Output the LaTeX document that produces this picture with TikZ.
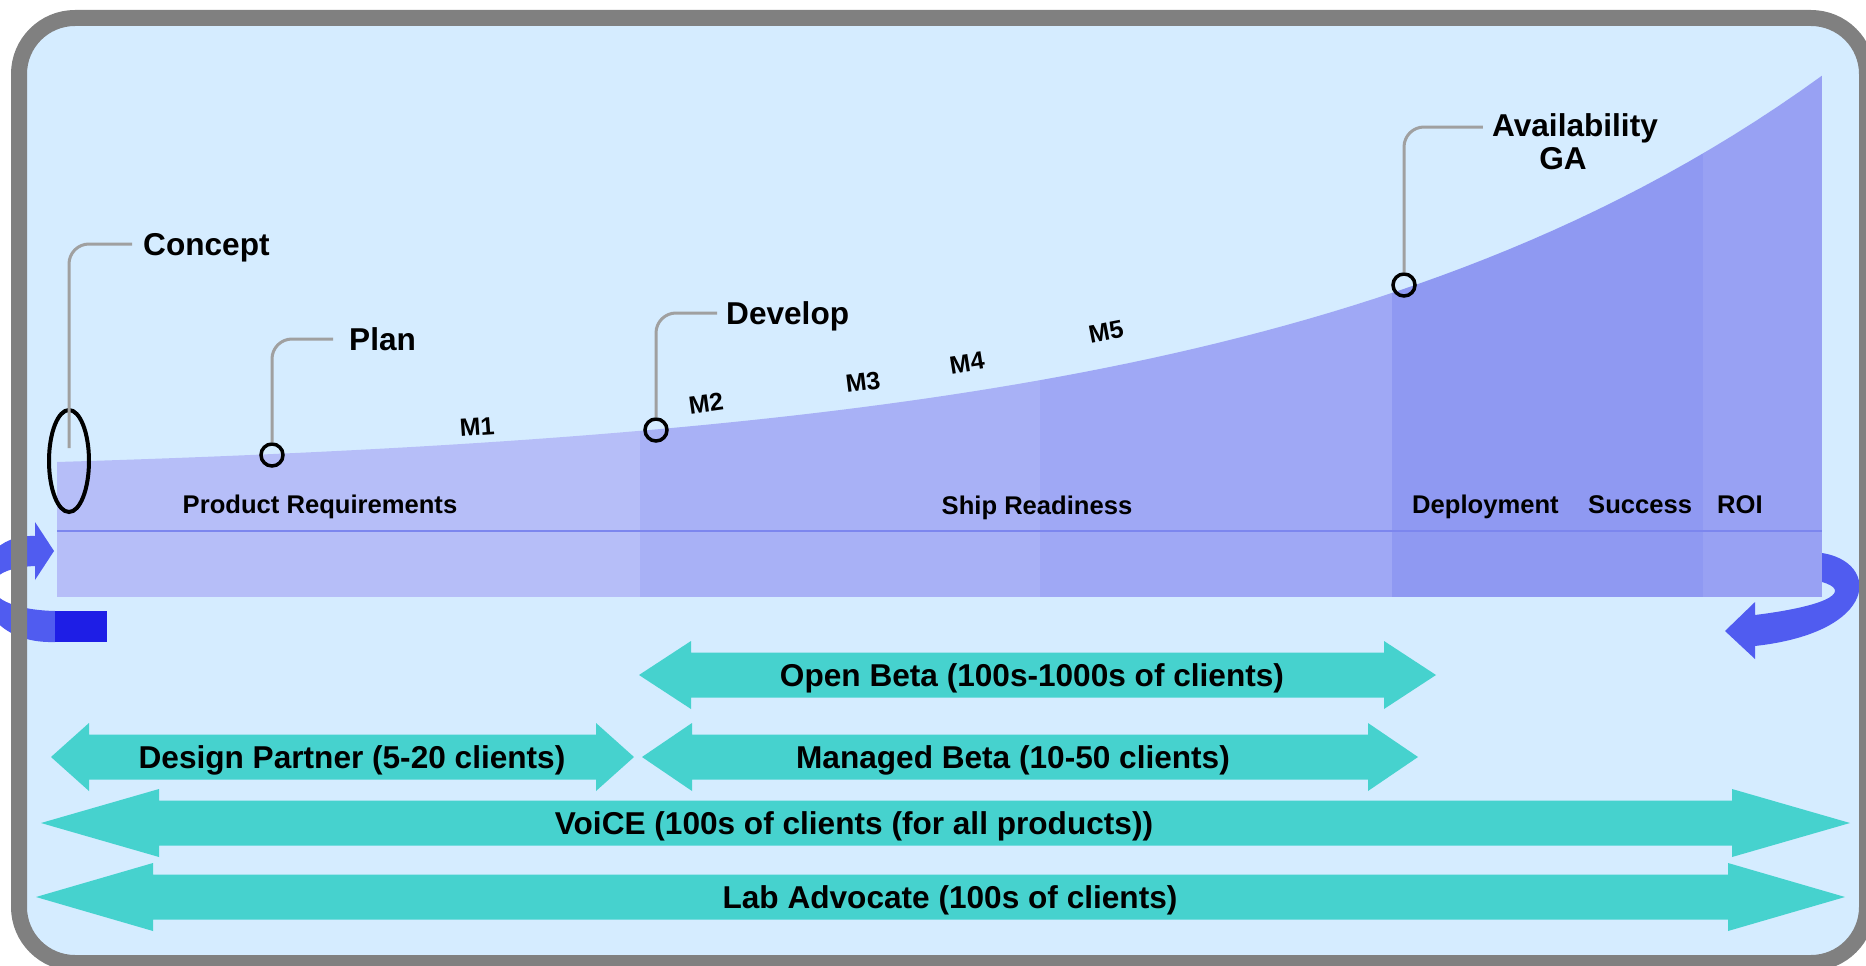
\documentclass[tikz,border=0pt]{standalone}
\usepackage{fontspec}
\setmainfont{Liberation Sans}
\usetikzlibrary{shapes.geometric}

\definecolor{skyback}{RGB}{213,236,255}
\definecolor{framegray}{RGB}{128,128,128}
\definecolor{leadergray}{RGB}{160,160,160}
\definecolor{phaseA}{RGB}{182,190,248}
\definecolor{phaseB}{RGB}{168,177,246}
\definecolor{phaseC}{RGB}{159,168,245}
\definecolor{phaseD}{RGB}{143,153,242}
\definecolor{phaseE}{RGB}{152,161,243}
\definecolor{phaseline}{RGB}{124,134,238}
\definecolor{loopblue}{RGB}{80,92,240}
\definecolor{loopdark}{RGB}{30,30,230}
\definecolor{bandteal}{RGB}{70,210,206}

% double headed band: left tip, right tip, middle y, head length
\newcommand{\bandarrow}[4]{%
  \fill[bandteal] (#1,#3) -- ({#1+#4},{#3-34}) -- ({#1+#4},{#3-22.5})
    -- ({#2-#4},{#3-22.5}) -- ({#2-#4},{#3-34}) -- (#2,#3)
    -- ({#2-#4},{#3+34}) -- ({#2-#4},{#3+22.5}) -- ({#1+#4},{#3+22.5})
    -- ({#1+#4},{#3+34}) -- cycle;}

\begin{document}
\begin{tikzpicture}[x=1pt,y=-1pt,
  stagedot/.style={circle,draw,line width=3.5pt,minimum size=22pt,inner sep=0pt},
  leader/.style={draw=leadergray,line width=3pt,rounded corners=20pt},
  stagelabel/.style={font=\fontsize{31.6}{33}\selectfont\bfseries,inner sep=0pt,anchor=base west},
  phaselabel/.style={font=\fontsize{25.6}{28}\selectfont\bfseries,inner sep=0pt,anchor=base},
  milestone/.style={font=\fontsize{25}{28}\selectfont\bfseries,inner sep=0pt},
  bandlabel/.style={font=\fontsize{31.6}{33}\selectfont\bfseries,inner sep=0pt,anchor=base}]

\useasboundingbox (0,0) rectangle (1866,966);
\fill[skyback,rounded corners=56pt] (19,18) rectangle (1867,963);

% loop arrows at both ends
\fill[loopblue] (55,642) .. controls (-40,645) and (-40,533) .. (35,536) -- (35,522)
  -- (54,551) -- (35,580) -- (35,566) .. controls (-25,568) and (-25,609) .. (55,611) -- cycle;
\fill[loopdark] (55,611) rectangle (107,642);
\fill[loopblue] (1822,553) .. controls (1880,562) and (1880,632) .. (1755,646) -- (1755,659)
  -- (1725,631) -- (1755,602) -- (1755,615) .. controls (1835,605) and (1850,590) .. (1822,582) -- cycle;

% phases under the curve
\begin{scope}
\clip (57,597) -- plot[domain=57:1822,samples=80] (\x,{462-16.8*(exp(0.0018*(\x-57))-1)})
  -- (1822,597) -- cycle;
\fill[phaseA] (57,0) rectangle (640,597);
\fill[phaseB] (640,0) rectangle (1040,597);
\fill[phaseC] (1040,0) rectangle (1392,597);
\fill[phaseD] (1392,0) rectangle (1703,597);
\fill[phaseE] (1703,0) rectangle (1822,597);
\end{scope}
\draw[phaseline,line width=2pt] (57,531) -- (1822,531);

\draw[framegray,line width=16pt,rounded corners=56pt] (19,18) rectangle (1867,963);

% stages
\node[draw,ellipse,line width=4pt,minimum width=40pt,minimum height=102pt,inner sep=0pt] (conceptmark) at (69,461) {};
\node[stagedot] (plandot) at (272,455) {};
\node[stagedot] (developdot) at (656,430) {};
\node[stagedot] (gadot) at (1404,285) {};
\node[stagelabel] (concept) at (143,255) {Concept};
\node[stagelabel] (plan) at (349,350) {Plan};
\node[stagelabel] (develop) at (726,324) {Develop};
\node[stagelabel,anchor=north,align=center] (availability) at (1575,113) {Availability\\GA\hspace*{24pt}};

\draw[leader] ([yshift=13pt]conceptmark.center) |- ([xshift=-11pt,yshift=11pt]concept.base west);
\draw[leader] (plandot.north) |- ([xshift=-16pt,yshift=11pt]plan.base west);
\draw[leader] (developdot.north) |- ([xshift=-9pt,yshift=11pt]develop.base west);
\draw[leader] (gadot.north) |- ([xshift=-9pt,yshift=-14pt]availability.north west);

\node[milestone,rotate=4] (mone) at (477,427) {M1};
\node[milestone,rotate=8] (mtwo) at (706,403) {M2};
\node[milestone,rotate=7] (mthree) at (863,382) {M3};
\node[milestone,rotate=9] (mfour) at (967,363) {M4};
\node[milestone,rotate=11] (mfive) at (1106,332) {M5};

\node[phaselabel] (requirements) at (320,513) {Product Requirements};
\node[phaselabel] (readiness) at (1037,514) {Ship Readiness};
\node[phaselabel,anchor=base west] (deployment) at (1412,513) {Deployment};
\node[phaselabel,anchor=base west] (success) at (1588,513) {Success};
\node[phaselabel,anchor=base west] (roi) at (1717,513) {ROI};

% client programmes
\bandarrow{639}{1436}{675}{52}
\bandarrow{51}{634}{757}{38}
\bandarrow{642}{1418}{757}{50}
\bandarrow{41}{1850}{823}{118}
\bandarrow{36}{1845}{897}{117}

\node[bandlabel] (openbeta) at (1032,686) {Open Beta (100s-1000s of clients)};
\node[bandlabel] (designpartner) at (352,768) {Design Partner (5-20 clients)};
\node[bandlabel] (managedbeta) at (1013,768) {Managed Beta (10-50 clients)};
\node[bandlabel] (voice) at (854,834) {VoiCE (100s of clients (for all products))};
\node[bandlabel] (labadvocate) at (950,908) {Lab Advocate (100s of clients)};

\end{tikzpicture}
\end{document}
